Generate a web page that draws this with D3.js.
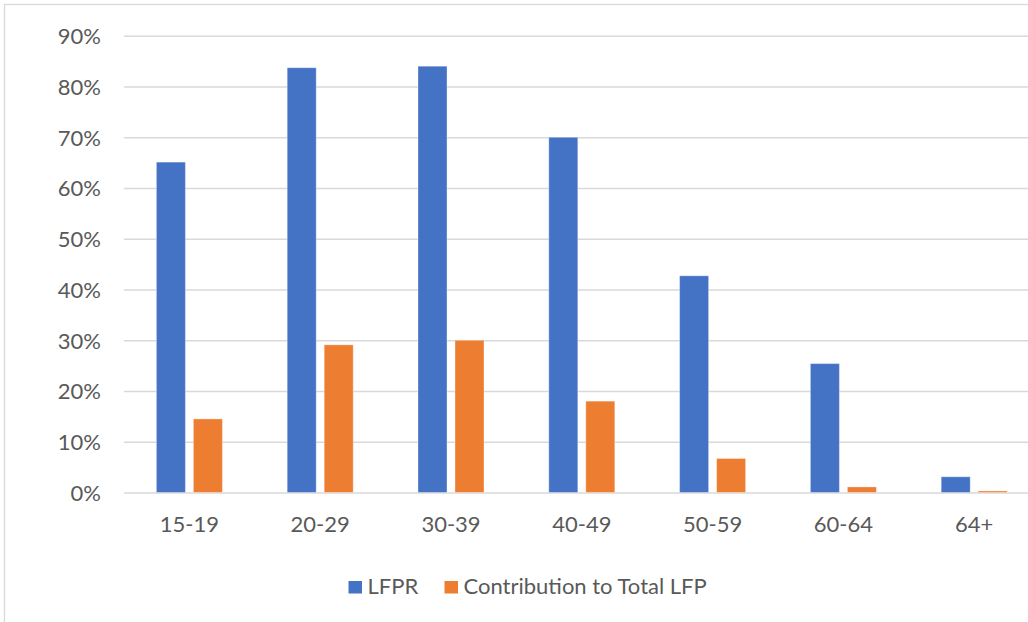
<!DOCTYPE html>
<html>
<head>
<meta charset="utf-8">
<script src="https://cdn.jsdelivr.net/npm/d3@7"></script>
<style>
  html, body { margin: 0; padding: 0; background: #fff; }
  svg { display: block; }
  text { font-family: Lato, "Open Sans", sans-serif; fill: #595959; }
</style>
</head>
<body>
<svg id="chart" width="1028" height="622"></svg>
<script>
// Age groups and the two series (share of population / share of total LFP)
const categories = ["15-19", "20-29", "30-39", "40-49", "50-59", "60-64", "64+"];
const seriesNames = ["LFPR", "Contribution to Total LFP"];
const lfpr = [0.651, 0.837, 0.840, 0.700, 0.427, 0.254, 0.031];
const contribution = [0.145, 0.291, 0.300, 0.180, 0.067, 0.011, 0.003];
const yTicks = [0, 0.1, 0.2, 0.3, 0.4, 0.5, 0.6, 0.7, 0.8, 0.9];
const colors = ["#4472C4", "#ED7D31"];

const rows = categories.map((c, i) => ({ cat: c, values: [lfpr[i], contribution[i]] }));

const svg = d3.select("#chart");
const W = 1028, H = 622;
const FS = 22;

svg.append("rect").attr("width", W).attr("height", H).attr("fill", "#fff");

// chart-area frame (runs off the right and bottom edges)
svg.append("rect")
  .attr("x", 4.5).attr("y", 4.5)
  .attr("width", 1200).attr("height", 800)
  .attr("fill", "none").attr("stroke", "#d9d9d9").attr("stroke-width", 1.3);

const plot = { left: 124, right: 1039.6, top: 35.75, bottom: 492.5 };

const y = d3.scaleLinear().domain([0, 0.9]).range([plot.bottom, plot.top]);
const x0 = d3.scaleBand().domain(categories).range([plot.left, plot.right]).padding(0);
const x1 = d3.scaleBand().domain(seriesNames).range([0, x0.bandwidth()])
  .paddingInner(0.216).paddingOuter(0.8755);

// gridlines
const grid = svg.append("g").attr("transform", `translate(${plot.left},0)`)
  .call(d3.axisLeft(y).tickValues(yTicks).tickSize(-(W + 20 - plot.left)).tickFormat(""));
grid.select(".domain").remove();
grid.selectAll(".tick line").attr("stroke", "#d9d9d9").attr("stroke-width", 1.5);

// y tick labels
const yAxis = svg.append("g").attr("transform", `translate(101,0)`)
  .call(d3.axisLeft(y).tickValues(yTicks).tickSize(0).tickPadding(0).tickFormat(d3.format(".0%")));
yAxis.select(".domain").remove();
yAxis.selectAll("text").attr("font-size", FS).attr("fill", "#595959")
  .style("font-family", "Lato, 'Open Sans', sans-serif").attr("dy", "0.36em");

// bars
const groups = svg.append("g").selectAll("g").data(rows).join("g")
  .attr("transform", d => `translate(${x0(d.cat)},0)`);
groups.selectAll("rect").data(d => d.values.map((v, i) => ({ v, i })))
  .join("rect")
  .attr("x", d => x1(seriesNames[d.i]))
  .attr("width", x1.bandwidth())
  .attr("y", d => y(d.v))
  .attr("height", d => y(0) - y(d.v))
  .attr("fill", d => colors[d.i])
  .attr("stroke", "rgba(255,255,255,0.35)")
  .attr("stroke-width", 1);

// category axis labels
const xAxis = svg.append("g").attr("transform", `translate(0,${plot.bottom})`)
  .call(d3.axisBottom(x0).tickSize(0).tickPadding(0));
xAxis.select(".domain").remove();
xAxis.selectAll("text").attr("font-size", FS).attr("fill", "#595959")
  .style("font-family", "Lato, 'Open Sans', sans-serif")
  .attr("dy", null).attr("y", 39);

// legend
const legend = svg.append("g");
const legendItems = [
  { name: seriesNames[0], color: colors[0], x: 348.5 },
  { name: seriesNames[1], color: colors[1], x: 444.5 }
];
legendItems.forEach(it => {
  legend.append("rect").attr("x", it.x).attr("y", 581).attr("width", 13.5).attr("height", 12.5)
    .attr("fill", it.color);
  legend.append("text").attr("x", it.x + 19).attr("y", 594.3)
    .attr("font-size", FS).text(it.name);
});
</script>
</body>
</html>
